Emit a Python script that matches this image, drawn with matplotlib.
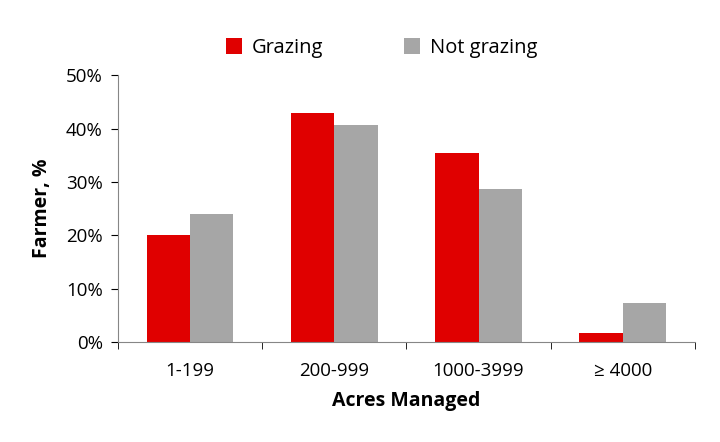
import matplotlib
matplotlib.use("Agg")
import matplotlib.pyplot as plt
import numpy as np
from matplotlib.ticker import PercentFormatter

categories = ["1-199", "200-999", "1000-3999", "≥ 4000"]
grazing = [20.0, 42.9, 35.4, 1.7]
not_grazing = [24.0, 40.6, 28.6, 7.3]

plt.rcParams["font.family"] = "Open Sans"
fig = plt.figure(figsize=(7.2, 4.42), dpi=100)
ax = fig.add_axes([0.164, 0.226, 0.801, 0.604])
x = np.arange(len(categories))
w = 0.3
ax.bar(x - w/2, grazing, w, color="#e00000", label="Grazing")
ax.bar(x + w/2, not_grazing, w, color="#a6a6a6", label="Not grazing")
ax.set_xlim(-0.5, 3.5)
ax.set_ylim(0, 50)
ax.set_yticks(range(0, 51, 10))
ax.yaxis.set_major_formatter(PercentFormatter(decimals=0))
ax.set_xticks(x)
ax.set_xticklabels(categories)
ax.tick_params(labelsize=13.5, colors="black")
ax.tick_params(axis="x", length=0, pad=14)
ax.set_xticks(np.arange(-0.5, 4, 1), minor=True)
ax.tick_params(axis="x", which="minor", length=5, direction="out")
ax.tick_params(axis="y", length=5, direction="out", pad=6)
for s in ["top", "right"]:
    ax.spines[s].set_visible(False)
for s in ["left", "bottom"]:
    ax.spines[s].set_color("#868686")
ax.set_ylabel("Farmer, %", fontsize=14, fontweight="bold", labelpad=10)
ax.set_xlabel("Acres Managed", fontsize=14, fontweight="bold", labelpad=8)
fig.legend(loc="upper center", bbox_to_anchor=(0.53, 0.955), ncol=2, frameon=False,
           fontsize=14.5, handlelength=0.8, handleheight=0.8, columnspacing=4, handletextpad=0.5)
fig.savefig("out.png", dpi=100)
